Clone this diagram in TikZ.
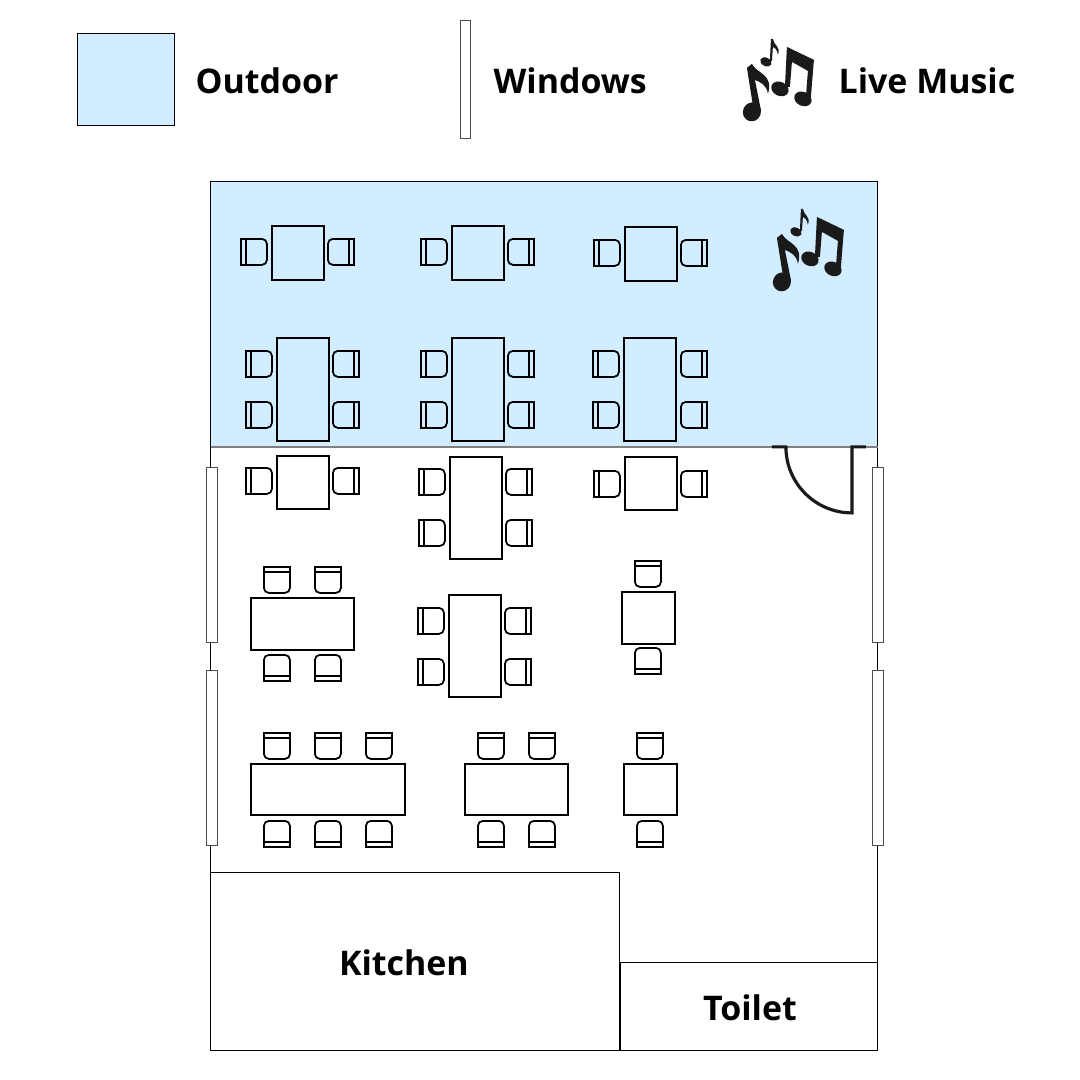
\documentclass[tikz,border=0pt]{standalone}
\usepackage{fontspec}
\setmainfont{Open Sans}
\usepackage{xcolor}
\usetikzlibrary{positioning}
\definecolor{skyfill}{HTML}{D1EDFF}
\definecolor{inkblack}{HTML}{1A1A1A}

\begin{document}
\begin{tikzpicture}[
  x=0.01cm, y=-0.01cm,
  room/.style={draw=black, line width=0.25pt},
  outdoor/.style={room, fill=skyfill},
  window/.style={draw=black!70, line width=0.25pt, fill=white},
  tbl/.style={draw=black, line width=0.6pt},
  lbl/.style={font=\fontsize{9.65}{12}\selectfont\bfseries, text=black, inner sep=0pt},
  chair/.pic={
    \draw[line width=0.5pt, rounded corners=1.4pt] (-13,-8) -- (-13,13) -- (13,13) -- (13,-8);
    \draw[line width=0.5pt] (-13,-8) rectangle (13,-13);
  },
  music/.pic={
    % small note
    \fill[inkblack, rotate around={-25:(766,62)}] (766,62) ellipse [x radius=6, y radius=4.2];
    \fill[inkblack] (770,61) -- (771,39) -- (773,39) .. controls (774,46) and (781,46) .. (778,55)
      .. controls (777,49) and (775,48) .. (773,47) -- (772,61) -- cycle;
    % big note
    \fill[inkblack, rotate around={-20:(752,112)}] (752,112) ellipse [x radius=9, y radius=9.5];
    \fill[inkblack] (754,112) -- (747,68) -- (752,64) .. controls (757,74) and (774,74) .. (768,94)
      .. controls (767,85) and (760,82) .. (755,80) -- (761,110) -- cycle;
    % beamed notes
    \fill[inkblack, rotate around={-25:(780,89)}] (780,89) ellipse [x radius=9, y radius=7];
    \fill[inkblack, rotate around={-25:(803,99)}] (803,99) ellipse [x radius=9, y radius=7];
    \fill[inkblack] (785,87) -- (787,47) -- (814,60) -- (811,97) -- (806,97) -- (808,71)
      -- (792,62) -- (790,87) -- cycle;
  }
]
  \useasboundingbox (0.1,0.1) rectangle (1080.1,1080.1);

  % legend
  \draw[outdoor] (78,34) rectangle (175,126);
  \node[lbl, anchor=west] (outdoorlbl) at (195,81) {Outdoor};
  \draw[window] (461,21) rectangle (471,139);
  \node[lbl, anchor=west] (windowlbl) at (493,81) {Windows};
  \pic at (0,0) {music};
  \node[lbl, anchor=west] (musiclbl) at (838,81) {Live Music};

  % rooms
  \draw[room] (211,447) rectangle (878,1051);
  \draw[outdoor] (211,182) rectangle (878,447);
  \draw[draw=black!50, line width=0.5pt] (211,447) -- (878,447);
  \draw[room, fill=white] (211,873) rectangle (620,1051);
  \draw[room, fill=white] (621,963) rectangle (878,1051);
  \node[lbl] (kitchen) at (404,963) {Kitchen};
  \node[lbl] (toilet) at (750,1008) {Toilet};
  \pic at (30,170) {music};

  % windows
  \foreach \wx in {207,873} {
    \draw[window] (\wx,468) rectangle ++(11,175);
    \draw[window] (\wx,671) rectangle ++(11,175);
  }

  % door
  \draw[inkblack, line width=0.9pt] (772,447) -- (786,447) arc [start angle=180, end angle=90, radius=66]
    -- (852,447) -- (866,447);

  % tables
  \foreach \xa/\ya/\xb/\yb in {272/226/324/280, 452/226/504/280, 625/227/677/281,
      277/338/329/441, 452/338/504/441, 624/338/676/441,
      277/456/329/509, 450/457/502/559, 625/457/677/510,
      251/598/354/650, 449/595/501/697, 622/592/675/644,
      251/764/405/815, 465/764/568/815, 624/764/677/815}
    \draw[tbl] (\xa,\ya) rectangle (\xb,\yb);

  % chairs with the back to the left
  \foreach \cx/\cy in {254/252, 434/252, 607/253, 259/364, 259/415, 434/364, 434/415,
      606/364, 606/415, 259/481, 432/482, 432/533, 607/484, 431/621, 431/672}
    \pic[rotate=90] at (\cx,\cy) {chair};
  % back to the right
  \foreach \cx/\cy in {341/252, 521/252, 694/253, 346/364, 346/415, 521/364, 521/415,
      694/364, 694/415, 346/481, 519/482, 519/533, 694/484, 518/621, 518/672}
    \pic[rotate=-90] at (\cx,\cy) {chair};
  % back to the top
  \foreach \cx/\cy in {277/580, 328/580, 648/574, 277/746, 328/746, 379/746,
      491/746, 542/746, 650/746}
    \pic at (\cx,\cy) {chair};
  % back to the bottom
  \foreach \cx/\cy in {277/668, 328/668, 648/661, 277/834, 328/834, 379/834,
      491/834, 542/834, 650/834}
    \pic[rotate=180] at (\cx,\cy) {chair};
\end{tikzpicture}
\end{document}
